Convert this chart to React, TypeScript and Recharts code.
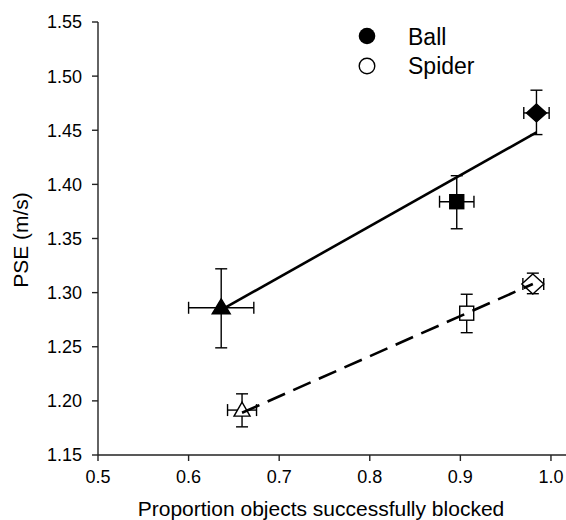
import React from 'react';
import { ScatterChart, Scatter, XAxis, YAxis, ErrorBar, Legend } from 'recharts';

const FONT = '"Liberation Sans", Arial, Helvetica, sans-serif';

// Conditions (marker per condition, same order in both series)
const markers = ['triangle', 'square', 'diamond'];

// Ball series
const ballX = [0.636, 0.896, 0.984];
const ballY = [1.286, 1.384, 1.466];
const ballXErr = [[0.036, 0.036], [0.019, 0.019], [0.014, 0.014]];
const ballYErr = [[0.037, 0.036], [0.025, 0.024], [0.02, 0.021]];

// Spider series
const spiderX = [0.659, 0.907, 0.98];
const spiderY = [1.1915, 1.281, 1.308];
const spiderXErr = [[0.016, 0.016], [0.006, 0.006], [0.011, 0.012]];
const spiderYErr = [[0.0155, 0.015], [0.018, 0.0175], [0.009, 0.01]];

// Regression lines
const ballFitX = [0.636, 0.984];
const ballFitY = [1.284, 1.448];
const spiderFitX = [0.659, 0.98];
const spiderFitY = [1.189, 1.308];

// Axis ticks
const xTicks = [0.5, 0.6, 0.7, 0.8, 0.9, 1.0];
const yTicks = [1.15, 1.2, 1.25, 1.3, 1.35, 1.4, 1.45, 1.5, 1.55];

const seriesNames = ['Ball', 'Spider'];

const build = (xs: number[], ys: number[], ex: number[][], ey: number[][]) =>
  xs.map((x, i) => ({ x, y: ys[i], ex: ex[i], ey: ey[i], marker: markers[i] }));

const ballData = build(ballX, ballY, ballXErr, ballYErr);
const spiderData = build(spiderX, spiderY, spiderXErr, spiderYErr);
const ballFit = ballFitX.map((x, i) => ({ x, y: ballFitY[i] }));
const spiderFit = spiderFitX.map((x, i) => ({ x, y: spiderFitY[i] }));

const makeShape = (filled: boolean) => (props: any) => {
  const { cx, cy, payload } = props;
  if (cx == null || cy == null) return <g />;
  const fill = filled ? '#000' : '#fff';
  const sw = 1.4;
  const m = payload?.marker;
  if (m === 'triangle') {
    const pts = filled
      ? `${cx},${cy - 9} ${cx - 9},${cy + 6} ${cx + 9},${cy + 6}`
      : `${cx},${cy - 8} ${cx - 8},${cy + 6} ${cx + 8},${cy + 6}`;
    return <polygon points={pts} fill={fill} stroke="#000" strokeWidth={sw} />;
  }
  if (m === 'square') {
    return <rect x={cx - 7} y={cy - 7} width={14} height={14} fill={fill} stroke="#000" strokeWidth={sw} />;
  }
  const hw = filled ? 10 : 11;
  const hh = filled ? 9 : 10;
  return (
    <polygon
      points={`${cx},${cy - hh} ${cx + hw},${cy} ${cx},${cy + hh} ${cx - hw},${cy}`}
      fill={fill}
      stroke="#000"
      strokeWidth={sw}
    />
  );
};

const renderLegend = () => (
  <svg width={200} height={70} style={{ display: 'block' }}>
    <circle cx={17} cy={18} r={8.3} fill="#000" />
    <text x={58} y={27} fontFamily={FONT} fontSize={23} fill="#000">{seriesNames[0]}</text>
    <circle cx={17} cy={48} r={7.8} fill="#fff" stroke="#000" strokeWidth={1.4} />
    <text x={58} y={55.5} fontFamily={FONT} fontSize={23} fill="#000">{seriesNames[1]}</text>
  </svg>
);

const YTitle = () => {
  const x = 27.5;
  const y = 240;
  return (
    <text x={x} y={y} textAnchor="middle" transform={`rotate(-90, ${x}, ${y})`} fontFamily={FONT} fontSize={21} fill="#000">
      PSE (m/s)
    </text>
  );
};

const XTitle = (props: any) => {
  const vb = props.viewBox || { x: 0, y: 0, width: 0 };
  return (
    <text x={vb.x + 223} y={vb.y + 61} textAnchor="middle" fontFamily={FONT} fontSize={21} fill="#000">
      Proportion objects successfully blocked
    </text>
  );
};

export default function App() {
  const tickStyle = { fontFamily: FONT, fontSize: 18, fill: '#000' };
  return (
    <div style={{ position: 'absolute', left: 0, top: 0, background: '#fff' }}>
      <ScatterChart width={566} height={520} margin={{ top: 22, right: 0, bottom: 0, left: 0 }}>
        <XAxis
          type="number"
          dataKey="x"
          domain={[0.5, 1.0166]}
          ticks={xTicks}
          allowDataOverflow
          tickFormatter={(v: number) => v.toFixed(1)}
          height={65}
          tickSize={6}
          tickMargin={9}
          tick={tickStyle}
          axisLine={{ stroke: '#222', strokeWidth: 1.4 }}
          tickLine={{ stroke: '#222', strokeWidth: 1.4 }}
          label={<XTitle />}
        />
        <YAxis
          type="number"
          dataKey="y"
          domain={[1.15, 1.55]}
          ticks={yTicks}
          allowDataOverflow
          tickFormatter={(v: number) => v.toFixed(2)}
          width={98}
          tickSize={6}
          tickMargin={10}
          tick={tickStyle}
          axisLine={{ stroke: '#222', strokeWidth: 1.4 }}
          tickLine={{ stroke: '#222', strokeWidth: 1.4 }}
          label={<YTitle />}
        />
        <Legend
          layout="vertical"
          align="center"
          verticalAlign="middle"
          content={renderLegend}
          wrapperStyle={{ position: 'absolute', left: 350, top: 18, width: 200, height: 70 }}
        />
        <Scatter name="Ball" data={ballData} shape={makeShape(true)} isAnimationActive={false}>
          <ErrorBar dataKey="ey" direction="y" width={6} stroke="#000" strokeWidth={1.4} />
          <ErrorBar dataKey="ex" direction="x" width={6} stroke="#000" strokeWidth={1.4} />
        </Scatter>
        <Scatter name="Spider" data={spiderData} shape={makeShape(false)} isAnimationActive={false}>
          <ErrorBar dataKey="ey" direction="y" width={6} stroke="#000" strokeWidth={1.4} />
          <ErrorBar dataKey="ex" direction="x" width={6} stroke="#000" strokeWidth={1.4} />
        </Scatter>
        <Scatter
          name="Ball fit"
          data={ballFit}
          line={{ stroke: '#000', strokeWidth: 2.6 }}
          shape={() => <g />}
          legendType="none"
          isAnimationActive={false}
        />
        <Scatter
          name="Spider fit"
          data={spiderFit}
          line={{ stroke: '#000', strokeWidth: 2.6, strokeDasharray: '19 9' }}
          shape={() => <g />}
          legendType="none"
          isAnimationActive={false}
        />
      </ScatterChart>
    </div>
  );
}
